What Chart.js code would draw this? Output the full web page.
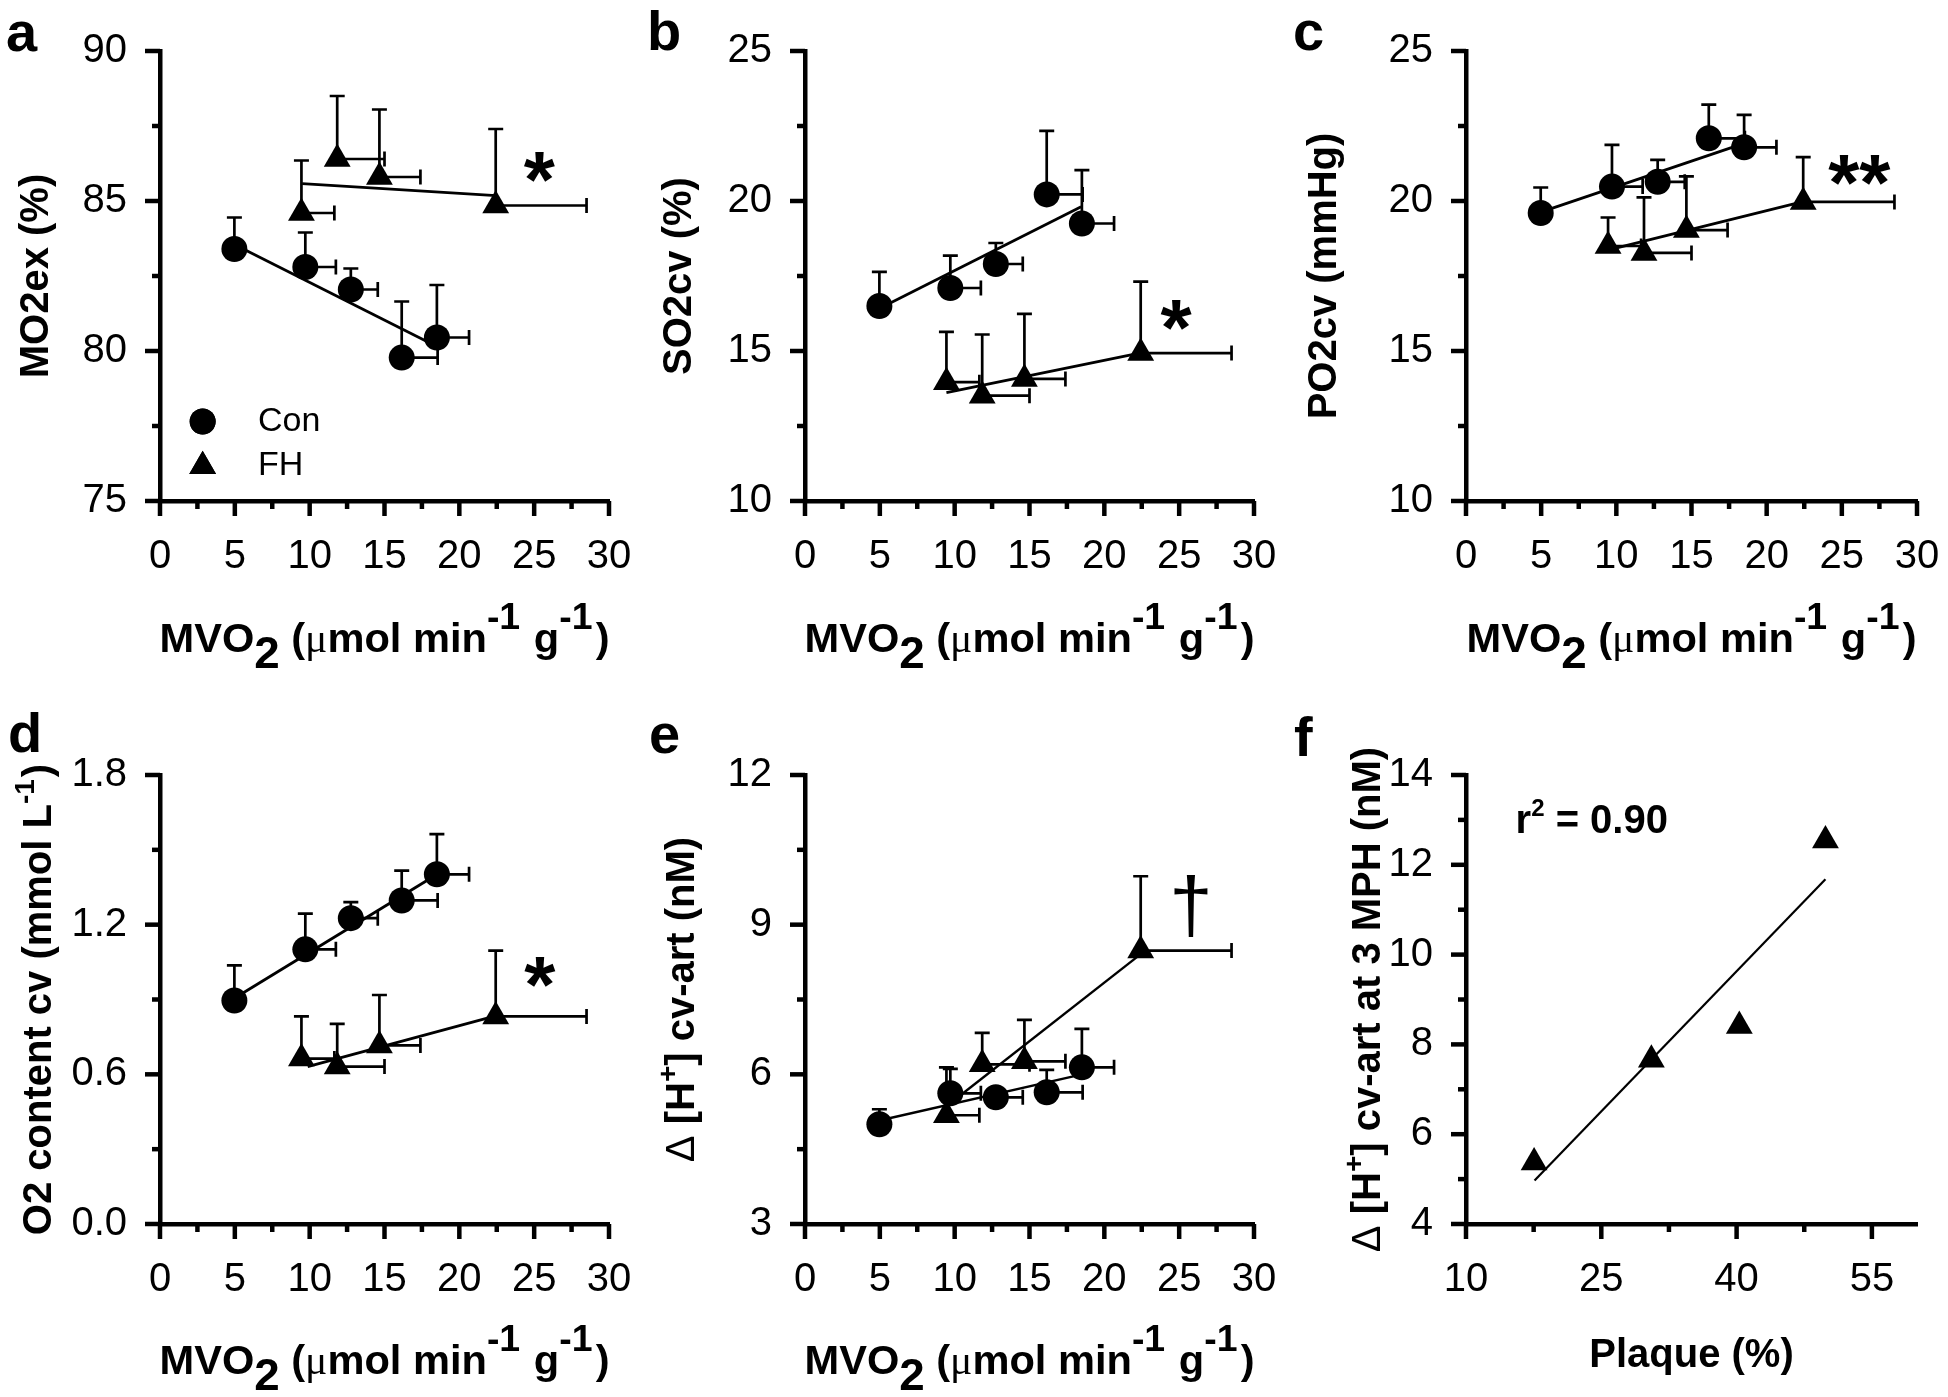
<!DOCTYPE html>
<html><head><meta charset="utf-8">
<script src="https://cdn.jsdelivr.net/npm/chart.js@4.4.0/dist/chart.umd.min.js"></script>
<style>
html,body{margin:0;padding:0;background:#fff;}
#wrap{position:relative;width:1948px;height:1397px;background:#fff;overflow:hidden;}
#wrap canvas{position:absolute;left:0;top:0;}
</style></head><body><div id="wrap">
<canvas id="pa" width="1948" height="1397"></canvas>
<canvas id="pb" width="1948" height="1397"></canvas>
<canvas id="pc" width="1948" height="1397"></canvas>
<canvas id="pd" width="1948" height="1397"></canvas>
<canvas id="pe" width="1948" height="1397"></canvas>
<canvas id="pf" width="1948" height="1397"></canvas>
</div>
<script>
// ---------------- DATA ----------------
// shared x data: MVO2 (umol/min/g), mean and upper SD end
const conMVO2   = [4.97, 9.71, 12.75, 16.15, 18.5];
const conMVO2Hi = [null, 11.75, 14.55, 18.55, 20.65];
const fhMVO2    = [9.45, 11.84, 14.66, 22.43];
const fhMVO2Hi  = [11.65, 15.0, 17.4, 28.5];

const mvo2Ticks      = [0, 2.5, 5, 7.5, 10, 12.5, 15, 17.5, 20, 22.5, 25, 27.5, 30];
const mvo2TickLabels = ['0', '', '5', '', '10', '', '15', '', '20', '', '25', '', '30'];

// a: MO2ex (%)
const aConY   = [83.4, 82.8, 82.05, 79.78, 80.45];
const aConYHi = [84.45, 83.95, 82.75, 81.65, 82.2];
const aFhY    = [84.6, 86.4, 85.8, 84.85];
const aFhYHi  = [86.35, 88.5, 88.05, 87.4];
const aConFitX = [4.97, 18.3], aConFitY = [83.55, 80.2];
const aFhFitX  = [9.5, 22.45], aFhFitY  = [85.58, 85.18];
const aYTicks      = [75, 77.5, 80, 82.5, 85, 87.5, 90];
const aYTickLabels = ['75', '', '80', '', '85', '', '90'];

// b: SO2cv (%)
const bConY   = [16.5, 17.1, 17.9, 20.22, 19.25];
const bConYHi = [17.64, 18.18, 18.6, 22.34, 21.03];
const bFhY    = [13.96, 13.51, 14.07, 14.93];
const bFhYHi  = [15.64, 15.55, 16.24, 17.31];
const bConFitX = [4.97, 18.45], bConFitY = [16.42, 19.81];
const bFhFitX  = [9.45, 22.35], bFhFitY  = [13.61, 14.93];
const bcYTicks      = [10, 12.5, 15, 17.5, 20, 22.5, 25];
const bcYTickLabels = ['10', '', '15', '', '20', '', '25'];

// c: PO2cv (mmHg)
const cConY   = [19.6, 20.48, 20.64, 22.09, 21.79];
const cConYHi = [20.45, 21.87, 21.37, 23.21, 22.87];
const cFhY    = [18.5, 18.27, 19.03, 19.97];
const cFhYHi  = [19.45, 20.12, 20.82, 21.46];
const cConFitX = [4.97, 18.44], cConFitY = [19.63, 21.91];
const cFhFitX  = [9.63, 22.35], cFhFitY  = [18.39, 19.97];

// d: O2 content cv (mmol/L)
const dConY   = [0.896, 1.101, 1.226, 1.297, 1.402];
const dConYHi = [1.037, 1.244, 1.29, 1.417, 1.563];
const dFhY    = [0.663, 0.631, 0.716, 0.832];
const dFhYHi  = [0.832, 0.802, 0.918, 1.096];
const dConFitX = [4.97, 18.44], dConFitY = [0.905, 1.399];
const dFhFitX  = [9.87, 22.3],  dFhFitY  = [0.631, 0.832];
const dYTicks      = [0, 0.3, 0.6, 0.9, 1.2, 1.5, 1.8];
const dYTickLabels = ['0.0', '', '0.6', '', '1.2', '', '1.8'];

// e: delta [H+] cv-art (nM)
const eConY   = [5.0, 5.62, 5.54, 5.64, 6.14];
const eConYHi = [5.3, 6.11, null, 6.09, 6.91];
const eFhY    = [5.18, 6.2, 6.26, 8.48];
const eFhYHi  = [6.14, 6.83, 7.09, 9.97];
const eConFitX = [4.97, 18.44], eConFitY = [5.075, 5.995];
const eFhFitX  = [9.45, 22.43], eFhFitY  = [5.36, 8.41];
const eYTicks      = [3, 4.5, 6, 7.5, 9, 10.5, 12];
const eYTickLabels = ['3', '', '6', '', '9', '', '12'];

// f: delta [H+] at 3 MPH vs plaque
const fPlaque = [17.55, 30.55, 40.3, 49.85];
const fDeltaH = [5.37, 7.66, 8.41, 12.54];
const fFitX = [17.6, 49.85], fFitY = [4.97, 11.68];
const fXTicks      = [10, 17.5, 25, 32.5, 40, 47.5, 55];
const fXTickLabels = ['10', '', '25', '', '40', '', '55'];
const fYTicks      = [4, 5, 6, 7, 8, 9, 10, 11, 12, 13, 14];
const fYTickLabels = ['4', '', '6', '', '8', '', '10', '', '12', '', '14'];

// ---------------- STYLE / HELPERS ----------------
const FF = "'Liberation Sans', Arial, Helvetica, sans-serif";
const B40 = 'bold 40px ' + FF, B28 = 'bold 28px ' + FF, R40 = '40px ' + FF;
const MU = "40px 'Liberation Serif', 'Times New Roman', serif";

const mvoTitle = [
  {t: 'MVO', f: B40}, {t: '2', f: 'bold 44px ' + FF, dy: 16}, {t: ' (', f: B40}, {t: 'μ', f: MU},
  {t: 'mol min', f: B40}, {t: '-1', f: 'bold 36px ' + FF, dy: -23, post: 2}, {t: ' g', f: B40},
  {t: '-1', f: 'bold 36px ' + FF, dy: -23, post: 3}, {t: ')', f: B40}
];

function richWidth(ctx, segs) {
  let w = 0;
  for (const s of segs) { ctx.font = s.f; w += ctx.measureText(s.t).width + (s.post || 0); }
  return w;
}
function drawRich(ctx, segs, x, y, sx) {
  sx = sx || 1;
  ctx.save();
  ctx.translate(x, y);
  ctx.scale(sx, 1);
  let cx = 0;
  for (const s of segs) {
    ctx.font = s.f;
    ctx.fillText(s.t, cx, (s.dy || 0));
    cx += ctx.measureText(s.t).width + (s.post || 0);
  }
  ctx.restore();
}

function seriesPoints(xs, ys) { return xs.map((x, i) => ({x: x, y: ys[i]})); }

const panelPlugin = {
  id: 'panelPlugin',
  beforeDatasetsDraw(chart) {
    const p = chart.options.plugins.panelPlugin;
    const ctx = chart.ctx, xs = chart.scales.x, ys = chart.scales.y;
    ctx.save();
    ctx.strokeStyle = '#000';
    ctx.lineWidth = 2.7;
    ctx.lineCap = 'butt';
    const cap = 7.5;
    for (const s of p.errors) {
      s.x.forEach((xv, i) => {
        const px = xs.getPixelForValue(xv), py = ys.getPixelForValue(s.y[i]);
        if (s.yHi && s.yHi[i] != null) {
          const ph = ys.getPixelForValue(s.yHi[i]);
          ctx.beginPath(); ctx.moveTo(px, py); ctx.lineTo(px, ph);
          ctx.moveTo(px - cap, ph); ctx.lineTo(px + cap, ph); ctx.stroke();
        }
        if (s.xHi && s.xHi[i] != null) {
          const ph = xs.getPixelForValue(s.xHi[i]);
          ctx.beginPath(); ctx.moveTo(px, py); ctx.lineTo(ph, py);
          ctx.moveTo(ph, py - cap); ctx.lineTo(ph, py + cap); ctx.stroke();
        }
      });
    }
    ctx.restore();
  },
  afterDraw(chart) {
    const p = chart.options.plugins.panelPlugin;
    const ctx = chart.ctx, xs = chart.scales.x, ys = chart.scales.y;
    const A = chart.chartArea;
    ctx.save();
    ctx.fillStyle = '#000'; ctx.strokeStyle = '#000';
    // tick marks (major labelled, minor short)
    ctx.lineWidth = 4.5; ctx.lineCap = 'butt';
    xs.ticks.forEach((t, i) => {
      const len = p.xLabels[i] ? 15 : 8;
      const px = xs.getPixelForValue(t.value);
      ctx.beginPath(); ctx.moveTo(px, A.bottom); ctx.lineTo(px, A.bottom + len); ctx.stroke();
    });
    ys.ticks.forEach((t, i) => {
      const len = p.yLabels[i] ? 15 : 8;
      const py = ys.getPixelForValue(t.value);
      ctx.beginPath(); ctx.moveTo(A.left, py); ctx.lineTo(A.left - len, py); ctx.stroke();
    });
    // panel letter
    ctx.font = 'bold 56px ' + FF; ctx.textBaseline = 'alphabetic'; ctx.textAlign = 'left';
    ctx.fillText(p.letter, p.letterPos[0], p.letterPos[1]);
    // x title (centered on plot area)
    const xsx = p.xTitleScale || 1;
    const xw = richWidth(ctx, p.xTitle) * xsx;
    drawRich(ctx, p.xTitle, (A.left + A.right) / 2 - xw / 2, A.bottom + p.xTitleDrop, xsx);
    // y title (rotated)
    const yw = richWidth(ctx, p.yTitle);
    ctx.save();
    ctx.translate(A.left - p.yTitleOffset, (A.top + A.bottom) / 2);
    ctx.rotate(-Math.PI / 2);
    drawRich(ctx, p.yTitle, -yw / 2, 14);
    ctx.restore();
    // annotations: ink-centred at data coordinates
    for (const a of p.notes) {
      const px = xs.getPixelForValue(a.x), py = ys.getPixelForValue(a.y);
      if (a.segs) {
        ctx.textAlign = 'left'; ctx.textBaseline = 'alphabetic';
        drawRich(ctx, a.segs, px, py);
      } else {
        ctx.font = a.f; ctx.textAlign = 'center'; ctx.textBaseline = 'alphabetic';
        const m = ctx.measureText(a.t);
        const mid = (m.actualBoundingBoxAscent - m.actualBoundingBoxDescent) / 2;
        const cxo = (m.actualBoundingBoxRight - m.actualBoundingBoxLeft) / 2;
        ctx.fillText(a.t, px - cxo, py + mid);
      }
    }
    // legend (panel a)
    if (p.legend) {
      for (const L of p.legend) {
        const px = xs.getPixelForValue(L.x), py = ys.getPixelForValue(L.y);
        Chart.helpers.drawPoint(ctx, {pointStyle: L.style, radius: L.r, borderWidth: 0, rotation: 0}, px, py);
        ctx.fill();
        ctx.font = '34px ' + FF; ctx.textAlign = 'left'; ctx.textBaseline = 'middle';
        ctx.fillText(L.text, xs.getPixelForValue(L.tx), py + (L.textDy || 0));
      }
    }
    ctx.restore();
  }
};

function zeroPad(s) { s.paddingTop = 0; s.paddingBottom = 0; s.paddingLeft = 0; s.paddingRight = 0; }

function makePanel(cfg) {
  const canvas = document.getElementById(cfg.id);
  const W = canvas.width, H = canvas.height;
  const A = cfg.area;
  const datasets = [];
  cfg.fits.forEach(f => datasets.push({
    type: 'scatter', data: seriesPoints(f.x, f.y), showLine: true,
    borderColor: '#000', borderWidth: f.w || 2.8, pointRadius: 0, clip: false
  }));
  cfg.series.forEach(s => datasets.push({
    type: 'scatter', data: seriesPoints(s.x, s.y), pointStyle: s.style,
    pointRadius: s.r, backgroundColor: '#000', borderColor: '#000', borderWidth: 0, clip: false
  }));
  const axisCommon = {
    type: 'linear',
    grid: {display: false, drawTicks: false},
    border: {display: true, color: '#000', width: 4.5},
  };
  return new Chart(canvas, {
    type: 'scatter',
    data: {datasets},
    options: {
      responsive: false, animation: false, devicePixelRatio: 1,
      layout: {padding: {top: A.top, right: W - A.right, bottom: 0, left: 0}},
      plugins: {
        legend: {display: false}, tooltip: {enabled: false},
        panelPlugin: {
          errors: cfg.series, xLabels: cfg.xLabels, yLabels: cfg.yLabels,
          letter: cfg.letter, letterPos: cfg.letterPos, xTitle: cfg.xTitle, xTitleDrop: cfg.xTitleDrop,
          xTitleScale: cfg.xTitleScale,
          yTitle: cfg.yTitle, yTitleOffset: cfg.yTitleOffset, notes: cfg.notes || [], legend: cfg.legend
        }
      },
      scales: {
        x: Object.assign({}, axisCommon, {
          min: cfg.xMin, max: cfg.xMax,
          afterBuildTicks: s => { s.ticks = cfg.xTicks.map(v => ({value: v})); },
          afterFit: s => { s.height = H - A.bottom; zeroPad(s); },
          ticks: {autoSkip: false, maxRotation: 0, minRotation: 0, padding: 32, color: '#000',
                  font: {family: FF, size: 40}, callback: (v, i) => cfg.xLabels[i]}
        }),
        y: Object.assign({}, axisCommon, {
          min: cfg.yMin, max: cfg.yMax,
          afterBuildTicks: s => { s.ticks = cfg.yTicks.map(v => ({value: v})); },
          afterFit: s => { s.width = A.left; zeroPad(s); },
          ticks: {autoSkip: false, padding: 33, color: '#000',
                  font: {family: FF, size: 40}, callback: (v, i) => cfg.yLabels[i]}
        })
      }
    },
    plugins: [panelPlugin]
  });
}

const CIRC = 13, TRI = 15.5;
const STARF = 'bold 80px ' + FF;

makePanel({
  id: 'pa', letter: 'a', letterPos: [6, 51],
  area: {left: 160, top: 51, right: 609, bottom: 501},
  xMin: 0, xMax: 30, xTicks: mvo2Ticks, xLabels: mvo2TickLabels,
  yMin: 75, yMax: 90, yTicks: aYTicks, yLabels: aYTickLabels,
  series: [
    {x: conMVO2, y: aConY, xHi: conMVO2Hi, yHi: aConYHi, style: 'circle', r: CIRC},
    {x: fhMVO2, y: aFhY, xHi: fhMVO2Hi, yHi: aFhYHi, style: 'triangle', r: TRI}
  ],
  fits: [{x: aConFitX, y: aConFitY}, {x: aFhFitX, y: aFhFitY}],
  xTitle: mvoTitle, xTitleDrop: 151, xTitleScale: 1.04,
  yTitle: [{t: 'MO2ex (%)', f: B40}], yTitleOffset: 126,
  notes: [{t: '*', f: STARF, x: 25.38, y: 86.15}],
  legend: [
    {style: 'circle', r: CIRC, x: 2.85, y: 77.65, text: 'Con', tx: 6.55},
    {style: 'triangle', r: TRI, x: 2.85, y: 76.16, text: 'FH', tx: 6.55, textDy: -1}
  ]
});

makePanel({
  id: 'pb', letter: 'b', letterPos: [647, 50],
  area: {left: 805, top: 51, right: 1254, bottom: 501},
  xMin: 0, xMax: 30, xTicks: mvo2Ticks, xLabels: mvo2TickLabels,
  yMin: 10, yMax: 25, yTicks: bcYTicks, yLabels: bcYTickLabels,
  series: [
    {x: conMVO2, y: bConY, xHi: conMVO2Hi, yHi: bConYHi, style: 'circle', r: CIRC},
    {x: fhMVO2, y: bFhY, xHi: fhMVO2Hi, yHi: bFhYHi, style: 'triangle', r: TRI}
  ],
  fits: [{x: bConFitX, y: bConFitY}, {x: bFhFitX, y: bFhFitY}],
  xTitle: mvoTitle, xTitleDrop: 151, xTitleScale: 1.04,
  yTitle: [{t: 'SO2cv (%)', f: B40}], yTitleOffset: 128,
  notes: [{t: '*', f: STARF, x: 24.82, y: 16.19}]
});

makePanel({
  id: 'pc', letter: 'c', letterPos: [1293, 50],
  area: {left: 1466, top: 51, right: 1917, bottom: 501},
  xMin: 0, xMax: 30, xTicks: mvo2Ticks, xLabels: mvo2TickLabels,
  yMin: 10, yMax: 25, yTicks: bcYTicks, yLabels: bcYTickLabels,
  series: [
    {x: conMVO2, y: cConY, xHi: conMVO2Hi, yHi: cConYHi, style: 'circle', r: CIRC},
    {x: fhMVO2, y: cFhY, xHi: fhMVO2Hi, yHi: cFhYHi, style: 'triangle', r: TRI}
  ],
  fits: [{x: cConFitX, y: cConFitY}, {x: cFhFitX, y: cFhFitY}],
  xTitle: mvoTitle, xTitleDrop: 151, xTitleScale: 1.04,
  yTitle: [{t: 'PO2cv (mmHg)', f: B40}], yTitleOffset: 144,
  notes: [{t: '**', f: STARF, x: 26.19, y: 21.04}]
});

makePanel({
  id: 'pd', letter: 'd', letterPos: [8, 752],
  area: {left: 160, top: 775, right: 609, bottom: 1224},
  xMin: 0, xMax: 30, xTicks: mvo2Ticks, xLabels: mvo2TickLabels,
  yMin: 0, yMax: 1.8, yTicks: dYTicks, yLabels: dYTickLabels,
  series: [
    {x: conMVO2, y: dConY, xHi: conMVO2Hi, yHi: dConYHi, style: 'circle', r: CIRC},
    {x: fhMVO2, y: dFhY, xHi: fhMVO2Hi, yHi: dFhYHi, style: 'triangle', r: TRI}
  ],
  fits: [{x: dConFitX, y: dConFitY}, {x: dFhFitX, y: dFhFitY}],
  xTitle: mvoTitle, xTitleDrop: 150, xTitleScale: 1.04,
  yTitle: [{t: 'O2 content cv (mmol L', f: B40}, {t: '-1', f: B28, dy: -17, post: 2}, {t: ')', f: B40}],
  yTitleOffset: 123,
  notes: [{t: '*', f: STARF, x: 25.4, y: 1.01}]
});

makePanel({
  id: 'pe', letter: 'e', letterPos: [649, 753],
  area: {left: 805, top: 775, right: 1254, bottom: 1224},
  xMin: 0, xMax: 30, xTicks: mvo2Ticks, xLabels: mvo2TickLabels,
  yMin: 3, yMax: 12, yTicks: eYTicks, yLabels: eYTickLabels,
  series: [
    {x: conMVO2, y: eConY, xHi: conMVO2Hi, yHi: eConYHi, style: 'circle', r: CIRC},
    {x: fhMVO2, y: eFhY, xHi: fhMVO2Hi, yHi: eFhYHi, style: 'triangle', r: TRI}
  ],
  fits: [{x: eConFitX, y: eConFitY, w: 2.4}, {x: eFhFitX, y: eFhFitY, w: 2.4}],
  xTitle: mvoTitle, xTitleDrop: 150, xTitleScale: 1.04,
  yTitle: [{t: 'Δ ', f: R40}, {t: '[H', f: B40}, {t: '+', f: B28, dy: -17}, {t: '] cv-art (nM)', f: B40}],
  yTitleOffset: 125,
  notes: [{t: '†', f: '78px ' + FF, x: 25.8, y: 9.38}]
});

makePanel({
  id: 'pf', letter: 'f', letterPos: [1294, 756],
  area: {left: 1466, top: 775, right: 1917, bottom: 1224},
  xMin: 10, xMax: 60, xTicks: fXTicks, xLabels: fXTickLabels,
  yMin: 4, yMax: 14, yTicks: fYTicks, yLabels: fYTickLabels,
  series: [
    {x: fPlaque, y: fDeltaH, xHi: null, yHi: null, style: 'triangle', r: TRI}
  ],
  fits: [{x: fFitX, y: fFitY, w: 2.2}],
  xTitle: [{t: 'Plaque (%)', f: B40}], xTitleDrop: 143,
  yTitle: [{t: 'Δ ', f: R40}, {t: '[H', f: B40}, {t: '+', f: B28, dy: -17}, {t: '] cv-art at 3 MPH (nM)', f: B40}],
  yTitleOffset: 100,
  notes: [{x: 15.5, y: 12.7,
           segs: [{t: 'r', f: B40}, {t: '2', f: 'bold 24px ' + FF, dy: -17}, {t: ' = 0.90', f: B40}]}]
});
</script>
</body></html>
